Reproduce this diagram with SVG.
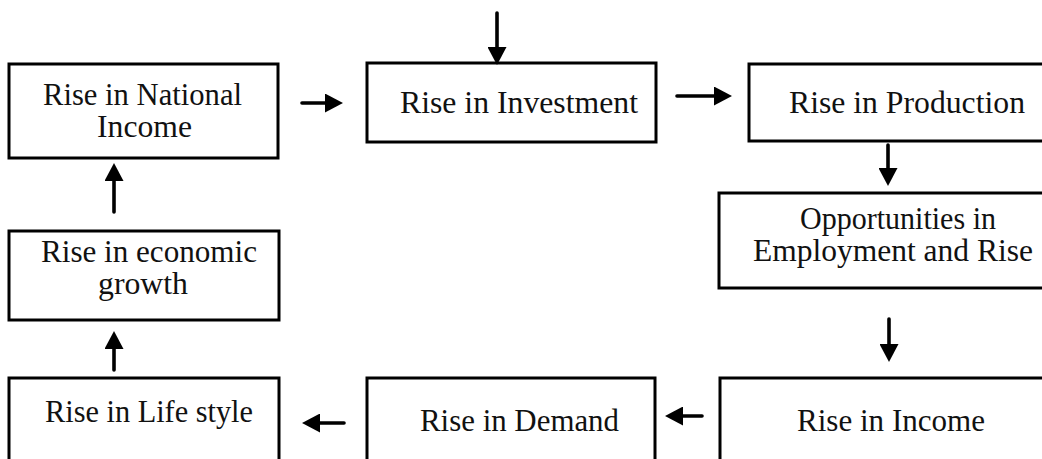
<svg xmlns="http://www.w3.org/2000/svg" width="1042" height="459" viewBox="0 0 1042 459">
<style>
.box{fill:#fff;stroke:#000;stroke-width:3}
.t{font-family:"Liberation Serif","Times New Roman",serif;font-size:31px;fill:#111}
.c{stroke:#000;stroke-width:3.6;fill:none;stroke-linecap:round;marker-end:url(#ah)}
</style>
<defs>
<marker id="ah" markerUnits="userSpaceOnUse" markerWidth="18" markerHeight="19" refX="8" refY="9.5" orient="auto" viewBox="0 0 18 19">
<path d="M0,0 L18,9.5 L0,19 z" fill="#000"/>
</marker>
</defs>
<rect width="1042" height="459" fill="#fff"/>
<g id="n-national-income">
<rect class="box" x="9" y="64" width="269" height="94"/>
<text class="t" x="43" y="105" textLength="199" lengthAdjust="spacingAndGlyphs">Rise in National</text>
<text class="t" x="97" y="137" textLength="95" lengthAdjust="spacingAndGlyphs">Income</text>
</g>
<g id="n-investment">
<rect class="box" x="367" y="63" width="289" height="79"/>
<text class="t" x="400" y="113" textLength="238" lengthAdjust="spacingAndGlyphs">Rise in Investment</text>
</g>
<g id="n-production">
<rect class="box" x="749" y="64" width="310" height="77"/>
<text class="t" x="789" y="113" textLength="236" lengthAdjust="spacingAndGlyphs">Rise in Production</text>
</g>
<g id="n-employment">
<rect class="box" x="719" y="193" width="340" height="95"/>
<text class="t" x="800" y="229" textLength="196" lengthAdjust="spacingAndGlyphs">Opportunities in</text>
<text class="t" x="753" y="261" textLength="280" lengthAdjust="spacingAndGlyphs">Employment and Rise</text>
</g>
<g id="n-income">
<rect class="box" x="720" y="378" width="340" height="100"/>
<text class="t" x="797" y="431" textLength="188" lengthAdjust="spacingAndGlyphs">Rise in Income</text>
</g>
<g id="n-demand">
<rect class="box" x="367" y="378" width="288" height="100"/>
<text class="t" x="420" y="431" textLength="199" lengthAdjust="spacingAndGlyphs">Rise in Demand</text>
</g>
<g id="n-lifestyle">
<rect class="box" x="9" y="378" width="270" height="100"/>
<text class="t" x="45" y="422" textLength="208" lengthAdjust="spacingAndGlyphs">Rise in Life style</text>
</g>
<g id="n-growth">
<rect class="box" x="9" y="231" width="270" height="89"/>
<text class="t" x="41" y="262" textLength="216" lengthAdjust="spacingAndGlyphs">Rise in economic</text>
<text class="t" x="98" y="294" textLength="90" lengthAdjust="spacingAndGlyphs">growth</text>
</g>
<g id="connectors">
<line class="c" x1="302" y1="103" x2="333" y2="103"/>
<line class="c" x1="497" y1="13" x2="497" y2="55"/>
<line class="c" x1="677" y1="96" x2="722" y2="96"/>
<line class="c" x1="888" y1="145" x2="888" y2="176"/>
<line class="c" x1="889" y1="319" x2="889" y2="352"/>
<line class="c" x1="702" y1="416" x2="675" y2="416"/>
<line class="c" x1="344" y1="423" x2="312" y2="423"/>
<line class="c" x1="114" y1="370" x2="114" y2="341"/>
<line class="c" x1="114" y1="212" x2="114" y2="173"/>
</g>
</svg>
